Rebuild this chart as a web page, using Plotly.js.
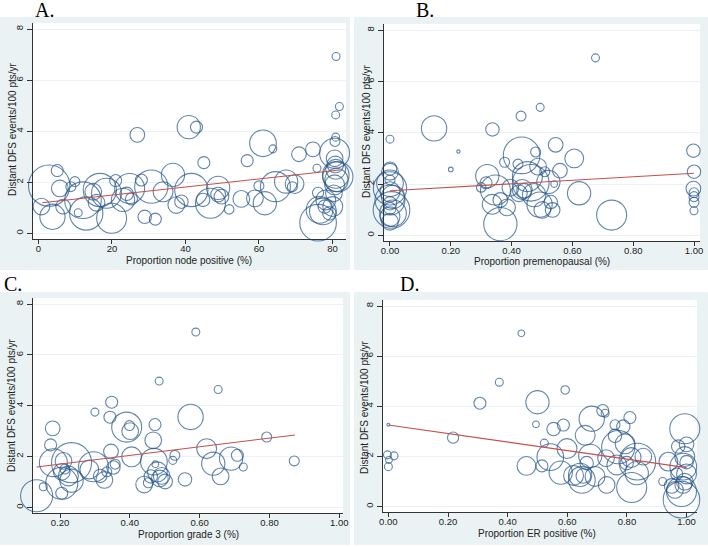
<!DOCTYPE html>
<html>
<head>
<meta charset="utf-8">
<script src="https://cdn.plot.ly/plotly-3.0.1.min.js"></script>
<style>html,body{margin:0;padding:0;background:#fff;}#chart{width:708px;height:547px;}</style>
</head>
<body>
<div id="chart"></div>
<script>
// ---------- Data ----------
// Panel A: proportion node positive (%)
const aX = [0.8,2.9,3.8,5.1,5.8,6.7,8.8,9.9,10.8,12.1,13.0,14.9,15.8,16.7,18.5,19.9,21.0,23.0,24.0,24.8,25.3,26.9,28.0,28.9,30.7,31.8,33.9,36.6,37.5,38.9,40.9,43.0,41.6,45.0,44.8,46.8,48.9,48.9,49.8,51.9,55.2,56.8,58.9,60.0,61.1,61.6,63.8,64.5,67.4,69.1,69.7,70.9,74.7,75.8,76.1,76.1,76.5,77.4,77.9,79.2,78.2,81.0,81.9,80.9,80.9,80.7,80.6,80.6,80.9,80.9,81.1,80.6,81.5,80.4,80.1,80.8];
const aY = [1.05,1.87,0.65,2.46,1.76,1.05,1.83,2.03,0.81,1.30,0.78,1.63,1.20,1.70,1.57,0.59,2.07,1.31,1.55,1.76,1.35,3.86,2.09,0.65,1.83,0.56,1.63,2.29,1.11,1.24,4.16,4.16,1.70,2.77,1.31,1.18,1.78,1.52,1.44,0.94,1.35,2.85,1.37,1.86,3.53,1.18,3.31,1.83,2.03,1.83,1.93,3.10,3.29,2.55,0.42,1.59,0.92,0.86,1.05,0.78,1.31,6.93,4.97,4.64,3.77,3.60,3.14,2.94,2.51,2.29,2.09,1.90,2.22,1.57,1.05,2.70];
const aW = [31,190,71,16,31,24,11,11,7,149,123,31,31,123,100,100,16,60,20,100,16,24,16,20,123,16,44,60,31,20,60,16,123,16,20,100,60,24,24,10,31,16,31,11,79,60,7,100,60,11,39,24,24,7,149,14,79,79,20,20,44,7,7,7,7,11,100,31,44,79,60,44,100,31,44,31];
const aFitX = [1, 82];
const aFitY = [1.20, 2.48];

// Panel B: proportion premenopausal
const bX = [0.000,0.000,0.005,0.000,0.000,0.000,0.000,0.000,0.000,0.010,0.000,0.000,0.000,0.000,0.010,0.145,0.200,0.225,0.300,0.320,0.316,0.336,0.337,0.347,0.363,0.363,0.377,0.385,0.396,0.421,0.431,0.433,0.424,0.435,0.441,0.452,0.463,0.474,0.479,0.487,0.492,0.494,0.501,0.509,0.521,0.529,0.535,0.540,0.545,0.559,0.606,0.622,0.676,0.729,0.998,1.000,0.998,1.000,1.000,1.000,1.000];
const bY = [3.75,1.83,0.99,1.38,2.03,2.48,2.60,0.73,0.53,1.50,1.70,1.25,1.05,2.16,0.86,4.17,2.57,3.27,1.87,2.31,2.05,1.21,4.13,1.77,1.38,0.44,2.85,1.09,1.86,2.78,4.65,3.12,1.64,1.79,1.74,2.29,2.05,1.57,3.25,2.68,1.20,4.99,0.99,2.48,2.08,1.30,0.99,2.00,3.53,2.52,3.00,1.64,6.92,0.79,3.30,2.48,1.82,1.66,1.51,1.29,0.96];
const bW = [7,123,149,100,79,31,20,44,31,60,44,20,16,11,79,71,2.4,1.2,10,60,16,44,20,100,24,123,11,31,31,11,11,149,31,44,24,100,149,60,11,31,71,7,31,11,60,20,24,5,24,24,39,60,7,100,20,20,24,11,11,11,7];
const bFitX = [0, 1];
const bFitY = [1.74, 2.42];

// Panel C: proportion grade 3
const cX = [0.133,0.152,0.173,0.179,0.181,0.205,0.205,0.205,0.210,0.224,0.233,0.233,0.214,0.284,0.296,0.300,0.315,0.327,0.334,0.346,0.348,0.343,0.353,0.358,0.391,0.401,0.399,0.405,0.441,0.453,0.469,0.460,0.472,0.467,0.473,0.479,0.484,0.486,0.491,0.501,0.523,0.529,0.558,0.574,0.589,0.620,0.639,0.653,0.660,0.690,0.708,0.725,0.792,0.871];
const cY = [0.46,0.81,2.46,3.11,1.76,0.95,0.56,1.40,1.83,1.24,1.05,1.76,1.51,1.49,1.60,3.75,1.24,1.08,1.40,2.20,4.14,3.55,1.57,1.70,3.16,3.00,3.22,1.99,0.90,0.97,1.80,1.22,3.26,2.64,1.70,1.40,4.97,1.14,1.24,1.02,1.85,2.05,1.10,3.56,6.90,2.31,1.72,4.64,1.22,1.92,2.05,1.59,2.77,1.83];
const cW = [114,7,16,24,87,114,16,31,31,44,60,178,11,39,100,7,20,31,11,24,16,16,20,11,100,31,11,44,31,11,79,20,16,31,5,44,7,31,31,24,7,11,20,71,7,44,60,7,31,60,16,7,11,11];
const cFitX = [0.133, 0.873];
const cFitY = [1.59, 2.85];

// Panel D: proportion ER positive
const dX = [0.000,-0.003,0.000,0.002,0.019,0.217,0.307,0.372,0.446,0.500,0.495,0.463,0.523,0.515,0.543,0.554,0.593,0.587,0.578,0.599,0.621,0.643,0.649,0.654,0.660,0.682,0.665,0.677,0.693,0.719,0.727,0.730,0.732,0.760,0.760,0.771,0.766,0.788,0.794,0.799,0.816,0.810,0.835,0.833,0.814,0.855,0.920,0.939,0.950,0.961,0.972,0.994,1.000,0.994,0.989,1.000,0.994,0.983,0.983,0.989,1.000,0.967];
const dY = [3.26,2.06,1.59,1.86,2.02,2.75,4.12,4.96,6.91,4.16,3.28,1.62,2.53,1.62,1.97,3.09,4.65,3.25,1.35,2.31,1.24,1.26,1.06,1.22,2.84,3.50,1.73,2.02,1.20,3.83,3.72,1.93,0.86,3.26,2.82,2.37,1.66,3.19,2.50,1.73,0.76,3.55,1.79,1.33,1.95,1.99,1.00,1.79,0.82,0.66,2.39,3.10,2.48,1.99,1.59,1.30,0.99,0.60,0.27,0.86,1.77,1.30];
const dW = [1,7,7,5,7,14,16,7,5,60,5,39,7,16,79,20,8,16,60,44,44,60,79,24,44,71,20,60,44,16,7,31,31,11,20,123,44,20,44,20,100,16,149,60,44,31,7,39,24,31,20,100,24,44,79,44,31,100,149,31,20,16];
const dFitX = [0, 1];
const dFitY = [3.25, 1.55];

const xTitles = ['Proportion node positive (%)','Proportion premenopausal (%)','Proportion grade 3 (%)','Proportion ER positive (%)'];
const yTitle = 'Distant DFS events/100 pts/yr';
const panelLabels = ['A.','B.','C.','D.'];

// ---------- Layout geometry (pixels) ----------
const W = 708, H = 547;
const NAVY = '#22538a', FIT = '#c4504a', BG = '#eaf2f3';
const plots = [
  {px:[33,346], py:[23,239], gx:[0,350], gy:[17,270], xr:[-1.5,83.7], lab:[33,10], xt:[189,260], yt:[12,129]},
  {px:[384,700], py:[24,241], gx:[354,708], gy:[17,270], xr:[-0.0197,1.0197], lab:[414,10], xt:[542,261], yt:[366,131]},
  {px:[33,343], py:[298,513], gx:[0,350], gy:[292,545], xr:[0.1226,1.0106], lab:[2,284], xt:[188,534], yt:[11,405]},
  {px:[383,697], py:[300,512], gx:[354,708], gy:[292,545], xr:[-0.018,1.035], lab:[398,284], xt:[537,533], yt:[364,407]}
];
const series = [[aX,aY,aW,aFitX,aFitY],[bX,bY,bW,bFitX,bFitY],[cX,cY,cW,cFitX,cFitY],[dX,dY,dW,dFitX,dFitY]];

const data = [];
const layout = {
  width: W, height: H,
  margin: {l:0, r:0, t:0, b:0},
  paper_bgcolor: '#ffffff',
  plot_bgcolor: '#ffffff',
  showlegend: false,
  font: {family: 'Liberation Sans, Arial, sans-serif', color: '#222', size: 10},
  shapes: [], annotations: []
};
const sizeOf = w => 3 * Math.sqrt(w);
const titleFont = {family: 'Liberation Sans, Arial, sans-serif', size: 10, color: '#222'};

series.forEach((s, i) => {
  const n = i + 1;
  const xa = 'x' + (n === 1 ? '' : n), ya = 'y' + (n === 1 ? '' : n);
  data.push({
    type: 'scatter', mode: 'markers', x: s[0], y: s[1], xaxis: xa, yaxis: ya,
    marker: {symbol: 'circle', size: s[2].map(sizeOf), color: 'rgba(0,0,0,0)',
             line: {color: NAVY, width: 1.1}},
    hoverinfo: 'x+y', cliponaxis: false
  });
  data.push({
    type: 'scatter', mode: 'lines', x: s[3], y: s[4], xaxis: xa, yaxis: ya,
    line: {color: FIT, width: 1.1}, hoverinfo: 'skip'
  });
  const p = plots[i];
  const isPct = i === 0;
  const xticks = isPct ? [0,20,40,60,80] : (i === 2 ? [0.2,0.4,0.6,0.8,1.0] : [0,0.2,0.4,0.6,0.8,1.0]);
  const xkey = 'xaxis' + (n === 1 ? '' : n), ykey = 'yaxis' + (n === 1 ? '' : n);
  layout[xkey] = {
    domain: [p.px[0]/W, p.px[1]/W], anchor: ya, range: p.xr,
    tickvals: xticks, tickformat: isPct ? 'd' : '.2f',
    ticks: 'outside', ticklen: 4, tickwidth: 1, tickcolor: '#333',
    ticklabelstandoff: -3,
    showline: true, linecolor: '#333', linewidth: 1, mirror: false,
    showgrid: false, zeroline: false,
    tickfont: {size: 9.5, color: '#222'},
    automargin: false, fixedrange: true
  };
  layout[ykey] = {
    domain: [1 - p.py[1]/H, 1 - p.py[0]/H], anchor: xa, range: [-0.22, 8.24],
    tickvals: [0,2,4,6,8], tickangle: -90,
    ticks: 'outside', ticklen: 5, tickwidth: 1, tickcolor: '#333',
    showline: true, linecolor: '#333', linewidth: 1, mirror: false,
    showgrid: true, gridcolor: BG, gridwidth: 1, zeroline: false,
    tickfont: {size: 9.5, color: '#222'},
    automargin: false, fixedrange: true
  };
  layout.shapes.push({type:'rect', xref:'paper', yref:'paper', layer:'below',
    x0: p.gx[0]/W, x1: p.gx[1]/W, y0: 1 - p.gy[1]/H, y1: 1 - p.gy[0]/H,
    fillcolor: BG, line: {width: 0}});
  layout.shapes.push({type:'rect', xref:'paper', yref:'paper', layer:'below',
    x0: p.px[0]/W, x1: p.px[1]/W, y0: 1 - p.py[1]/H, y1: 1 - p.py[0]/H,
    fillcolor: '#ffffff', line: {width: 0}});
  // axis titles
  layout.annotations.push({xref:'paper', yref:'paper', x: p.xt[0]/W, y: 1 - p.xt[1]/H,
    xanchor:'center', yanchor:'middle', showarrow:false, text: xTitles[i], font: titleFont});
  layout.annotations.push({xref:'paper', yref:'paper', x: p.yt[0]/W, y: 1 - p.yt[1]/H,
    xanchor:'center', yanchor:'middle', showarrow:false, textangle: -90, text: yTitle, font: titleFont});
  // panel letter
  layout.annotations.push({xref:'paper', yref:'paper', x: p.lab[0]/W, y: 1 - p.lab[1]/H,
    xanchor:'left', yanchor:'middle', showarrow:false, text: panelLabels[i],
    font: {family: 'Liberation Serif, Times New Roman, serif', size: 20, color: '#000'}});
});

Plotly.newPlot('chart', data, layout, {staticPlot: true, displayModeBar: false});
</script>
</body>
</html>
